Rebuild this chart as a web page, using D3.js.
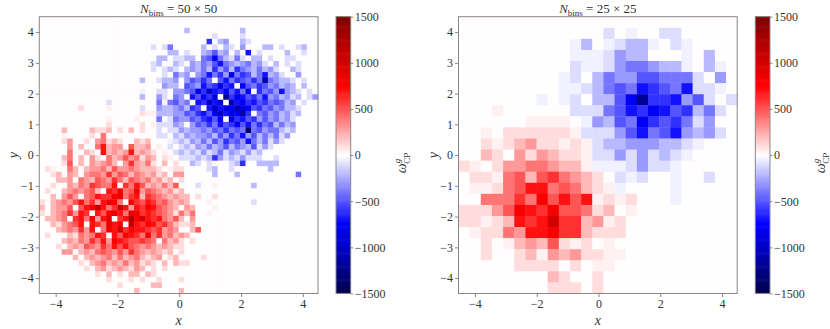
<!DOCTYPE html>
<html>
<head>
<meta charset="utf-8">
<script src="https://cdn.jsdelivr.net/npm/d3@7"></script>
<style>
  body { margin: 0; background: #fff; }
  text { font-family: "Liberation Serif", "DejaVu Serif", serif; fill: #333; }
</style>
</head>
<body>
<div id="plot"></div>
<script>
// data extents and ticks
const xRange = [-4.53, 4.49];
const yRange = [-4.5, 4.5];
const xTicks = [-4, -2, 0, 2, 4];
const yTicks = [-4, -3, -2, -1, 0, 1, 2, 3, 4];
const cbTicks = [-1500, -1000, -500, 0, 500, 1000, 1500];
const cbDomain = [-1500, 1500];
const binLabels = ["50 \u00d7 50", "25 \u00d7 25"];

// cell codes, top row first:
// '.' 0, '+' 40, '-' -40, a..o = 100..1500, A..O = -100..-1500
const grid50 = [
  "..................................................",
  "..................................................",
  "..........................B.........B.............",
  "...............................A....A.............",
  "..............................F.BC..BA............",
  "....................A.AD.....B.A.BA.C...BB.A..AB..",
  ".......................BB.A..BCEBC.B.G.A....B..A..",
  ".....................BB.AABB.DEHDBADA.BB.A..AA....",
  "....................AB..BA.CBDCEGDCBCDBCA.B.A.A...",
  "....................A.ABA.BCBDBFCEBFDCBDBCA..BA...",
  "......................A.DBC.CDGDFCIDFEBDGBCA..C...",
  "..................B..ABBC.CEDFD.EGDFEDFDKDCBBA.A..",
  "......................CBB.EDCGEFIFG.HEDFECDBCB.B..",
  "..................-..AA.CCDEIFJGFHEGDH.FDECGCBA.A.",
  "..................B..CA.DC.GEHFI.LFHGEFDGCDBCAB.AC",
  "............A........D+DECD.GFJGI.KGHFGEFDEDBC.A..",
  ".......a....+.....A..CBBCDBFE.GJGIHKIHEFDECDBBA...",
  "..................a++BBBCCEDFGEHJGIHKF.DECDBCAB...",
  "............+....+...D.ADCCEDFGEH.IFGEFCECDBCA....",
  "............a.....a.+AAACB.CEDFDGEFHEGDFDEBDBC....",
  "....b....baab.a.b.a..A.AACBCCDCEDFDEDNDECDDBAB....",
  "....+....a.d.........AA.BACBCCDBECFDGCEBDBDAC.....",
  "....ac..a.cdaba..bab...-ABACBDBECFDECGDBDACA......",
  ".....c.b..dgbcc.ebbc.+.A.ABACBDBCEBDCBEACA........",
  ".....d..ba.gbcbcgbcba.+.ABABACABDACBACAB..........",
  "....bd.b.ca.dbcecdacb.a+.AAABABFCABACAAA..A.......",
  "....ae.b.cbcdb.cfcbda.b.a..BA.A...ABF..BBBB.......",
  ".a+..db.bccdbeccdcbbba.+aa....AB..A......B........",
  "..ab.cb.cddcfcedbdcbcab.cc.....B...B..........D...",
  "...bbc.dcbedcfdbedcdbcab.a........................",
  "..a..cbdcfeddg.fdgebcbdbe...A..+......B...........",
  ".a..bcdcdeb.gfhdehcedcbcab........................",
  "..b.cec.degffhidfgbfedcbcbb.a..a..................",
  "a.bcdcegdfcgihd.hfegfdecbcb...+.......A...........",
  "b.bcce.eghkgdfjgcgfhgedcb.cb...+..................",
  "a.bcdfcgf.gehigdihfgfedcadbd..+...................",
  ".bbcd.fgdhcgi.fglhjgfgdceb.c......................",
  "..bacdeg.gfdigh.kgfhgefdbaab......................",
  "...bcdcfcg.dhgjfhggfefcdc..be.....................",
  ".a...badcdgf.gehgfdhdfcdbcb.......................",
  "....bcbdcfdgchgfeefed.dbca.a......................",
  "...a.bcbedcfdgegedcdcbcbaa........................",
  "....cc.bcbdedcecfdcbcbab.a........................",
  "......b.bcbcdbdbcdbabc.ab....a....................",
  ".......a.bcdbcbdbcaba.b.baa.......................",
  "........a.bcabcbacb.a.a...........................",
  "..........a.b.a.bb.ba.............................",
  "............a...a.a..a...a........................",
  "..............a.....bb............................",
  ".................b.......b........................"
];

const grid25 = [
  ".........................",
  ".............A.-..AA.....",
  "..........-B.-ABB-.A-....",
  "..........---ACBB...-.B..",
  "..........A--ACDDCBB-.B-.",
  ".........-A.BDCCEEDDDA.C.",
  ".........--ABDEDGFEDGAA-.",
  ".......-.-A.BBEHLFFGCEA.A",
  "...+......AAADEGFHGEFBDA.",
  "......++++.-CBEDHFEFDAC..",
  "..+.aaaaaa+AAACEGDEGCBCA.",
  "..a+abcaa+a+ABBCCCBBA-...",
  "..ba.cacbaa+AACACABA-....",
  "a+.accddcbb+---ACAA-.....",
  ".aa+debefdcba.A-A..-..A..",
  ".++adeggdedba+-....-.....",
  "..dddfdhegeg+a+a...-.....",
  "aaacehgfheedab.+.........",
  "aa+abgfgjffbc+a..........",
  ".+aadcgghffbaaa..........",
  "..a.+bcbea+a.+...........",
  "..a..ab+cbcaa++..........",
  ".....aaaa.a.++...........",
  "........ba..a............",
  "........aaa.a............"
];

function cellValue(ch) {
  if (ch === "+") return 40;
  if (ch === "-") return -40;
  const code = ch.charCodeAt(0);
  if (code >= 97 && code <= 111) return (code - 96) * 100;
  if (code >= 65 && code <= 79) return -(code - 64) * 100;
  return 0;
}

// matplotlib "seismic", sampled through a 256 entry table
const seismic = d3.scaleLinear()
    .domain([0, 0.25, 0.5, 0.75, 1])
    .range(["#00004d", "#0000ff", "#ffffff", "#ff0000", "#800000"]);
function colour(v) {
  let i = Math.floor((v - cbDomain[0]) / (cbDomain[1] - cbDomain[0]) * 256);
  i = Math.max(0, Math.min(255, i));
  return seismic(i / 255);
}

const w = 830;
const h = 329;

const svg = d3.select("div#plot")
    .append("svg")
    .attr("width", w)
    .attr("height", h);

const panels = [
  {grid: grid50, label: binLabels[0], left: 39.3, cbLeft: 336},
  {grid: grid25, label: binLabels[1], left: 458.5, cbLeft: 755.3}
];
const plotTop = 16.7, plotBottom = 293.5, pw = 278.7, cbw = 14.7;
const minus = d => d < 0 ? "\u2212" + Math.abs(d) : String(d);

panels.forEach(p => {
  const n = p.grid.length;
  const xScale = d3.scaleLinear().domain(xRange).range([p.left, p.left + pw]);
  const yScale = d3.scaleLinear().domain(yRange).range([plotBottom, plotTop]);
  const dx = (xRange[1] - xRange[0]) / n;
  const dy = (yRange[1] - yRange[0]) / n;

  const cells = [];
  p.grid.forEach((row, r) => {
    for (let c = 0; c < n; c++) {
      cells.push({c: c, r: r, v: cellValue(row.charAt(c) || ".")});
    }
  });

  svg.append("g")
    .selectAll("rect")
    .data(cells)
    .join("rect")
      .attr("x", d => xScale(xRange[0] + d.c * dx))
      .attr("y", d => yScale(yRange[1] - d.r * dy))
      .attr("width", d => xScale(xRange[0] + (d.c + 1) * dx) - xScale(xRange[0] + d.c * dx) + 0.4)
      .attr("height", d => yScale(yRange[1] - (d.r + 1) * dy) - yScale(yRange[1] - d.r * dy) + 0.4)
      .attr("fill", d => colour(d.v));

  // frame
  svg.append("rect")
    .attr("x", p.left).attr("y", plotTop)
    .attr("width", pw).attr("height", plotBottom - plotTop)
    .attr("fill", "none").attr("stroke", "#888").attr("stroke-width", 1);

  const xAxis = d3.axisBottom(xScale).tickValues(xTicks).tickSize(3.5).tickPadding(2.5).tickFormat(minus);
  const yAxis = d3.axisLeft(yScale).tickValues(yTicks).tickSize(3.5).tickPadding(2).tickFormat(minus);

  const gx = svg.append("g").attr("transform", `translate(0, ${plotBottom})`).call(xAxis);
  const gy = svg.append("g").attr("transform", `translate(${p.left}, 0)`).call(yAxis);
  [gx, gy].forEach(g => {
    g.select(".domain").remove();
    g.selectAll("line").attr("stroke", "#888");
    g.selectAll("text").style("font-size", "12px").attr("fill", "#333");
  });

  // title
  const t = svg.append("text")
    .attr("x", p.left + pw / 2).attr("y", 12.5)
    .attr("text-anchor", "middle")
    .style("font-size", "13px");
  t.append("tspan").style("font-style", "italic").text("N");
  t.append("tspan").attr("dy", 3).style("font-size", "9px").text("bins");
  t.append("tspan").attr("dy", -3).text(" = " + p.label);

  svg.append("text")
    .attr("x", p.left + pw / 2).attr("y", 325)
    .attr("text-anchor", "middle")
    .style("font-size", "14px").style("font-style", "italic")
    .text("x");

  svg.append("text")
    .attr("transform", `translate(${p.left - 21}, ${(plotTop + plotBottom) / 2}) rotate(-90)`)
    .attr("text-anchor", "middle")
    .style("font-size", "14px").style("font-style", "italic")
    .text("y");

  // colour bar
  const cbScale = d3.scaleLinear().domain(cbDomain).range([plotBottom, plotTop]);
  const steps = d3.range(256).map(i => cbDomain[0] + (i + 0.5) * (cbDomain[1] - cbDomain[0]) / 256);
  const sh = (plotBottom - plotTop) / 256;
  svg.append("g")
    .selectAll("rect")
    .data(steps)
    .join("rect")
      .attr("x", p.cbLeft)
      .attr("y", d => cbScale(d) - sh / 2 - 0.3)
      .attr("width", cbw)
      .attr("height", sh + 0.6)
      .attr("fill", d => colour(d));
  svg.append("rect")
    .attr("x", p.cbLeft).attr("y", plotTop)
    .attr("width", cbw).attr("height", plotBottom - plotTop)
    .attr("fill", "none").attr("stroke", "#888").attr("stroke-width", 1);

  const cbAxis = d3.axisRight(cbScale).tickValues(cbTicks).tickSize(2.5).tickPadding(1.5).tickFormat(minus);
  const gc = svg.append("g").attr("transform", `translate(${p.cbLeft + cbw}, 0)`).call(cbAxis);
  gc.select(".domain").remove();
  gc.selectAll("line").attr("stroke", "#888");
  gc.selectAll("text").style("font-size", "12px").attr("fill", "#333");

  const lab = svg.append("text")
    .attr("transform", `translate(${p.cbLeft + 70}, 163) rotate(-90)`)
    .attr("text-anchor", "middle")
    .style("font-size", "14px");
  lab.append("tspan").style("font-style", "italic").text("\u03c9");
  lab.append("tspan").attr("dy", -6).style("font-size", "9px").style("font-style", "italic").text("g");
  lab.append("tspan").attr("dx", -5).attr("dy", 10).style("font-size", "9px").text("CP");
});
</script>
</body>
</html>
